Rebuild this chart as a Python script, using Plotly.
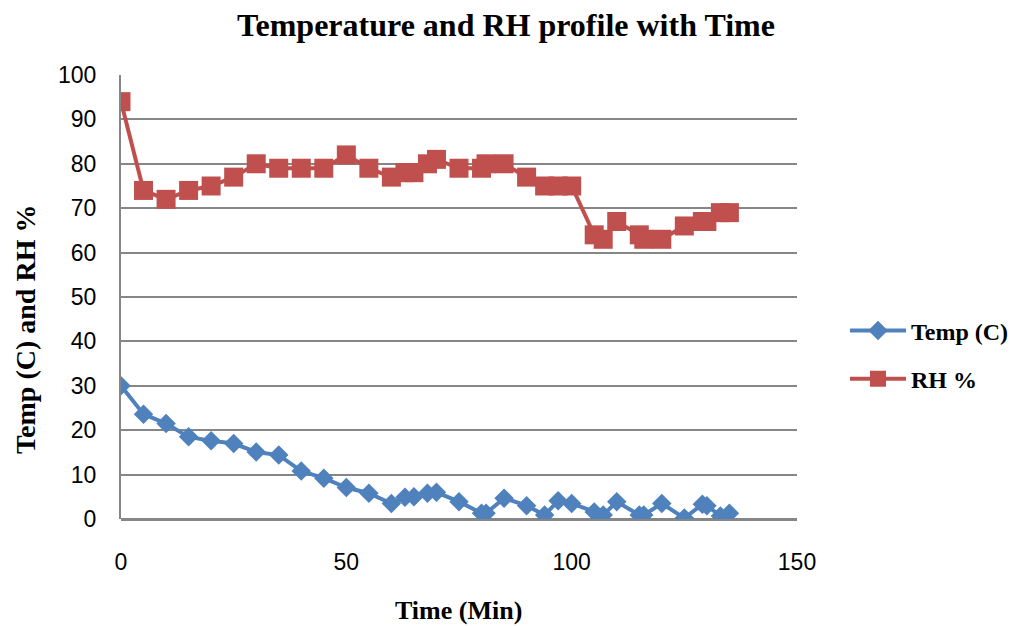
import plotly.graph_objects as go

time_min = [0, 5, 10, 15, 20, 25, 30, 35, 40, 45, 50, 55, 60, 63, 65, 68, 70, 75, 80, 81,
            85, 90, 94, 97, 100, 105, 107, 110, 115, 116, 120, 125, 129, 130, 133, 135]
temp_c = [30, 23.6, 21.5, 18.5, 17.6, 17, 15.1, 14.4, 10.8, 9.2, 7.1, 5.8, 3.5, 4.9, 5, 5.8, 6,
          3.9, 1.3, 1.3, 4.7, 3, 0.9, 4.1, 3.5, 1.6, 0.9, 3.9, 0.9, 0.9, 3.5, 0.2, 3.3, 3, 0.7, 1.3]
rh_pct = [94, 74, 72, 74, 75, 77, 80, 79, 79, 79, 82, 79, 77, 78, 78, 80, 81, 79, 79, 80,
          80, 77, 75, 75, 75, 64, 63, 67, 64, 63, 63, 66, 67, 67, 69, 69]

x_ticks = [0, 50, 100, 150]
y_ticks = [0, 10, 20, 30, 40, 50, 60, 70, 80, 90, 100]

BLUE = "#4F81BD"
RED = "#C0504D"
GRID = "#868686"

fig = go.Figure()
fig.add_trace(go.Scatter(
    x=time_min, y=temp_c, name="Temp (C)", mode="lines+markers",
    line=dict(color=BLUE, width=4),
    marker=dict(symbol="diamond", size=15, color=BLUE),
    legendgroup="a",
))
fig.add_trace(go.Scatter(
    x=time_min, y=rh_pct, name="RH %", mode="lines+markers",
    line=dict(color=RED, width=4),
    marker=dict(symbol="square", size=19, color=RED),
    legendgroup="b",
))

serif = "Liberation Serif"
OFF = 8  # page body margin offset
W, H = 1020 - OFF, 626 - OFF
# plot area in page pixels: x 121..797, y 75..519
L, R, T, B = 121 - OFF, 1020 - 797, 75 - OFF, 626 - 519
PW, PH = W - L - R, H - T - B


def px(x):
    return (x - OFF - L) / PW


def py(y):
    return (H - B - (y - OFF)) / PH


fig.update_layout(
    width=W, height=H,
    paper_bgcolor="white", plot_bgcolor="white",
    margin=dict(l=L, r=R, t=T, b=B, autoexpand=False),
    title=dict(text="<b>Temperature and RH profile with Time</b>",
               font=dict(family=serif, size=32, color="black"),
               x=(506 - OFF) / W, xanchor="center", y=1 - (25 - OFF) / H, yanchor="middle"),
    showlegend=True,
    legend=dict(x=px(845), xanchor="left", y=py(355), yanchor="middle",
                font=dict(family=serif, size=24, color="black", weight="bold"),
                itemwidth=56, tracegroupgap=14, traceorder="grouped",
                bgcolor="rgba(0,0,0,0)"),
    xaxis=dict(range=[0, 150], tickvals=x_ticks, showgrid=False, zeroline=False,
               showline=False, ticks="", ticklabelstandoff=27, automargin=False,
               tickfont=dict(family="Liberation Sans", size=23, color="black")),
    yaxis=dict(range=[0, 100], tickvals=y_ticks, showgrid=True, gridcolor=GRID, gridwidth=1.5,
               zeroline=True, zerolinecolor=GRID, zerolinewidth=2.5,
               showline=True, linecolor=GRID, linewidth=2, ticks="", ticklabelstandoff=18,
               automargin=False,
               tickfont=dict(family="Liberation Sans", size=23, color="black")),
    annotations=[
        dict(text="<b>Time (Min)</b>", xref="paper", yref="paper",
             x=px(458), y=py(610),
             xanchor="center", yanchor="middle", showarrow=False,
             font=dict(family=serif, size=26, color="black")),
        dict(text="<b>Temp (C) and RH %</b>", xref="paper", yref="paper",
             x=px(25), y=py(330),
             xanchor="center", yanchor="middle", showarrow=False, textangle=-90,
             font=dict(family=serif, size=28, color="black")),
    ],
)

fig.write_html("out.html")
